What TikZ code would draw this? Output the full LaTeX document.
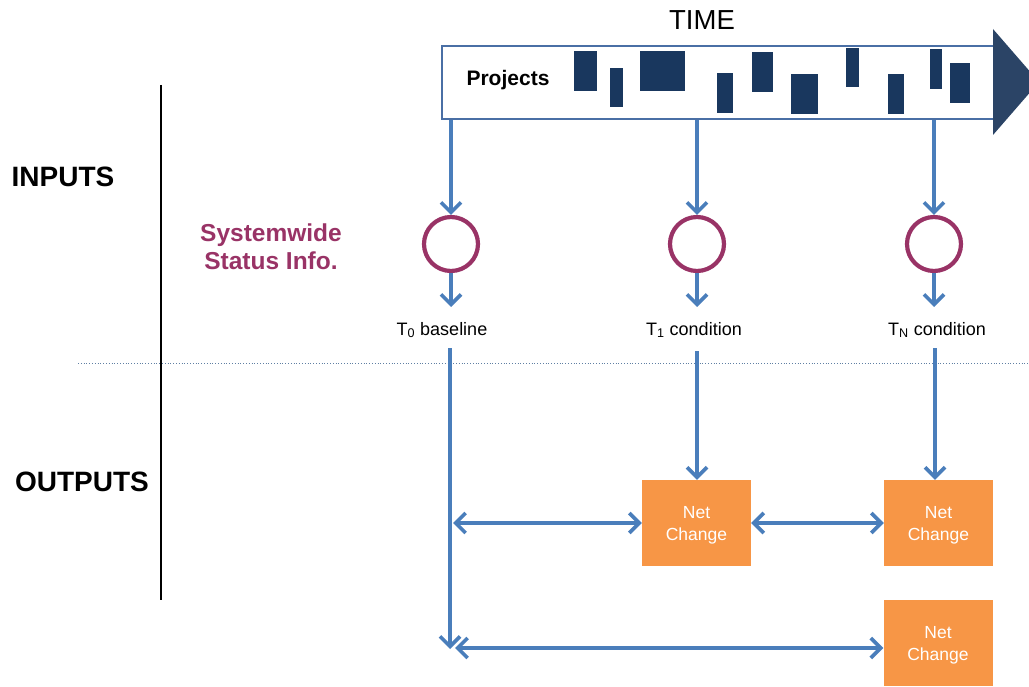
\documentclass[tikz,border=0pt]{standalone}
\usepackage{fontspec}
\setmainfont{Liberation Sans}
\usetikzlibrary{arrows.meta}

\definecolor{flow}{RGB}{74,126,187}
\definecolor{plum}{RGB}{153,51,102}
\definecolor{netorange}{RGB}{247,150,70}
\definecolor{navy}{RGB}{25,55,94}
\definecolor{headnavy}{RGB}{43,68,102}
\definecolor{frameblue}{RGB}{74,111,165}

\tikzset{
  flowline/.style={draw=flow, line width=3.6pt},
  barb/.tip={Straight Barb[length=10pt,width=20pt,line width=3.6pt]},
  downtip/.style={-barb},
  bothtips/.style={barb-barb},
  statenode/.style={circle, draw=plum, line width=4.2pt, minimum size=54pt, inner sep=0pt},
  nettext/.style={text=white, align=center, inner sep=0pt, yshift=-2.5pt,
    font=\fontsize{17.5}{22}\selectfont},
  netbox/.style={rectangle, fill=netorange, minimum width=109pt,
    minimum height=86pt, inner sep=0pt,
    label={[nettext]center:{Net\\Change}}},
  stamp/.style={inner sep=0pt, font=\fontsize{18}{20}\selectfont},
  heading/.style={inner sep=0pt, font=\fontsize{28}{30}\selectfont\bfseries},
  project/.style={fill=navy}
}

\begin{document}
\begin{tikzpicture}[x=1pt,y=-1pt]
\useasboundingbox (0,0) rectangle (1029,687);

% time bar with projects
\node[draw=frameblue, line width=1.8pt, fill=white, minimum width=552pt,
  minimum height=73pt, inner sep=0pt, anchor=north west] (bar) at (441,45) {};
\fill[headnavy] (993,29) -- (1039,82) -- (993,135) -- cycle;
\node[inner sep=0pt, font=\fontsize{27.5}{30}\selectfont] (time) at (702,20) {TIME};
\node[inner sep=0pt, font=\fontsize{21}{24}\selectfont\bfseries] (proj) at (508,80) {Projects};
\fill[project] (574,51) rectangle (597,91);
\fill[project] (610,68) rectangle (623,107);
\fill[project] (640,51) rectangle (685,91);
\fill[project] (717,73) rectangle (733,113);
\fill[project] (752,52) rectangle (773,92);
\fill[project] (791,74) rectangle (818,114);
\fill[project] (846,48) rectangle (859,87);
\fill[project] (888,74) rectangle (904,114);
\fill[project] (930,49) rectangle (942,89);
\fill[project] (950,63) rectangle (970,103);

% section labels and dividers
\draw[line width=1.8pt] (161,85) -- (161,600);
\draw[dotted, draw=flow!60!gray, line width=0.8pt] (78,363) -- (1029,363);
\node[heading] (inputs) at (63,177) {INPUTS};
\node[heading] (outputs) at (82,482) {OUTPUTS};
\node[inner sep=0pt, text=plum, align=center,
  font=\fontsize{24.5}{28}\selectfont\bfseries] (status) at (271,247)
  {Systemwide\\Status Info.};

% status snapshots
\node[statenode] (c0) at (451,244) {};
\node[statenode] (c1) at (697,244) {};
\node[statenode] (cN) at (934,244) {};

\node[stamp] (l0) at (442,330) {T\textsubscript{0} baseline};
\node[stamp] (l1) at (694,330) {T\textsubscript{1} condition};
\node[stamp] (lN) at (937,330) {T\textsubscript{N} condition};

\coordinate (a0) at (451,307);
\coordinate (a1) at (697,307);
\coordinate (aN) at (934,307);

\draw[flowline, downtip] (bar.south -| c0) -- (c0.north);
\draw[flowline, downtip] (bar.south -| c1) -- (c1.north);
\draw[flowline, downtip] (bar.south -| cN) -- (cN.north);
\draw[flowline, downtip] (c0.south) -- (a0);
\draw[flowline, downtip] (c1.south) -- (a1);
\draw[flowline, downtip] (cN.south) -- (aN);

% net change comparisons
\node[netbox] (nc1) at (696.5,523) {};
\node[netbox] (nc2) at (938.5,523) {};
\node[netbox] (nc3) at (938,643) {};

\coordinate (d0) at (450,348);
\coordinate (e0) at (450,649);
\coordinate (d1) at (697,351);
\coordinate (dN) at (935,348);
\coordinate (m0) at (453,523);
\coordinate (b0) at (455,648);

\draw[flowline, downtip] (d0) -- (e0);
\draw[flowline, downtip] (d1) -- (d1 |- nc1.north);
\draw[flowline, downtip] (dN) -- (dN |- nc2.north);
\draw[flowline, bothtips] (m0) -- (nc1.west);
\draw[flowline, bothtips] (nc1.east) -- (nc2.west);
\draw[flowline, bothtips] (b0) -- (b0 -| nc3.west);
\end{tikzpicture}
\end{document}
